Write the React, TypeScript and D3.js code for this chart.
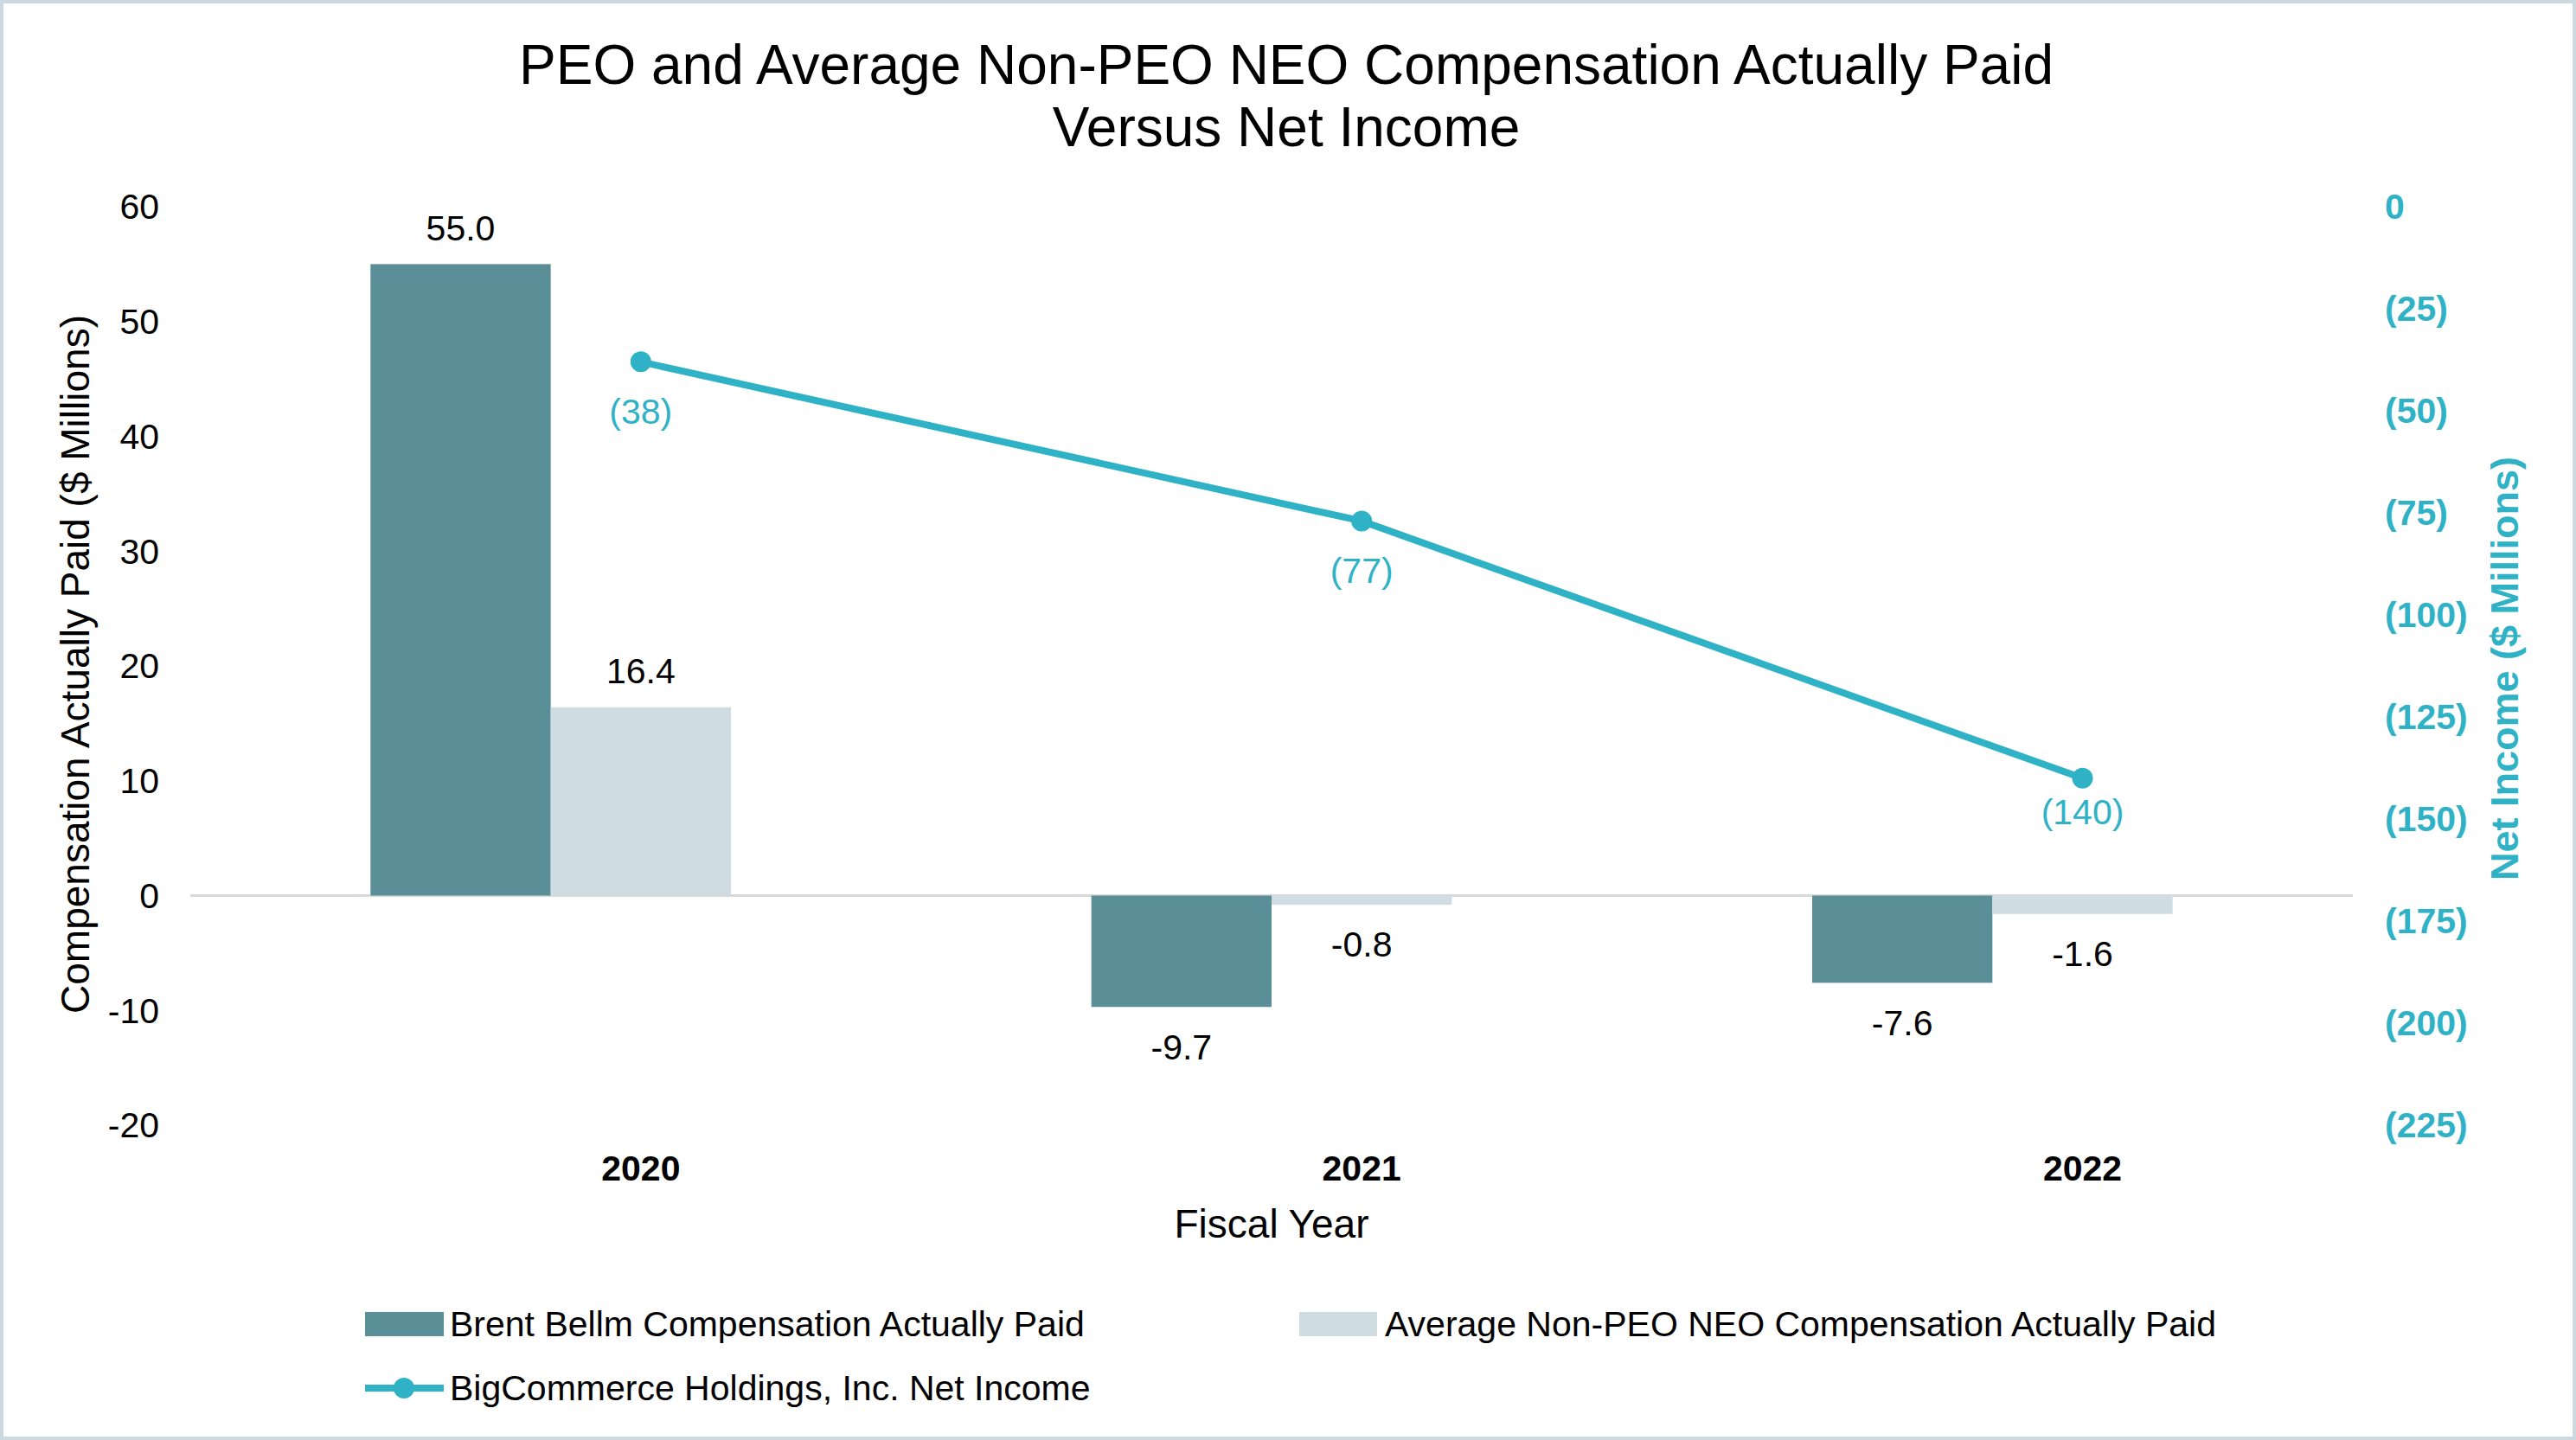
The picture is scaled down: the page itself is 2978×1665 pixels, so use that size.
import React from "react";
import * as d3 from "d3";

const years = ["2020", "2021", "2022"];
const peoValues = [55.0, -9.7, -7.6];
const neoValues = [16.4, -0.8, -1.6];
const netIncome = [-38, -77, -140];
const leftTicks = [60, 50, 40, 30, 20, 10, 0, -10, -20];
const rightTicks = [0, -25, -50, -75, -100, -125, -150, -175, -200, -225];

const W = 2978;
const H = 1665;
const FONT = "'Liberation Sans', Arial, sans-serif";
const DARK = "#5a8f97";
const LIGHT = "#cfdce1";
const TEAL = "#2fb2c6";
const FS = 41;
const LINE_LABEL_OFFSETS = [57, 57, 39];

export default function App() {
  const x = d3.scaleBand<string>().domain(years).range([220, 2720]).paddingInner(0).paddingOuter(0);
  const y = d3.scaleLinear().domain([-20, 60]).range([1301, 239]);
  const y2 = d3.scaleLinear().domain([-225, 0]).range([1301, 239]);
  const step = x.bandwidth();
  const barW = step * 0.25;
  const bc = (yr: string) => (x(yr) as number) + step / 2;
  const cx = (yr: string) => bc(yr) + barW / 2;
  const lineGen = d3
    .line<number>()
    .x((_, i) => cx(years[i]))
    .y((d) => y2(d));
  const fmtParen = (v: number) => (v === 0 ? "0" : `(${Math.abs(v)})`);

  return (
    <svg width={W} height={H} style={{ position: "absolute", left: 0, top: 0, background: "#fff" }}>
      <rect x={2} y={2} width={W - 4} height={H - 4} fill="#fff" stroke="#ccd9e0" strokeWidth={4} />
      <text x={1487} y={97} textAnchor="middle" fontFamily={FONT} fontSize={64} fill="#000">
        PEO and Average Non-PEO NEO Compensation Actually Paid
      </text>
      <text x={1487} y={169} textAnchor="middle" fontFamily={FONT} fontSize={64} fill="#000">
        Versus Net Income
      </text>

      {leftTicks.map((t) => (
        <text key={"l" + t} x={184} y={y(t)} dy="0.35em" textAnchor="end" fontFamily={FONT} fontSize={FS} fill="#000">
          {t}
        </text>
      ))}
      {rightTicks.map((t) => (
        <text key={"r" + t} x={2757} y={y2(t)} dy="0.35em" textAnchor="start" fontFamily={FONT} fontSize={FS} fontWeight="bold" fill={TEAL}>
          {fmtParen(t)}
        </text>
      ))}

      <line x1={220} x2={2720} y1={y(0)} y2={y(0)} stroke="#d9d9d9" strokeWidth={3} />

      {years.map((yr, i) => {
        const c = bc(yr);
        const v1 = peoValues[i];
        const v2 = neoValues[i];
        return (
          <g key={yr}>
            <rect x={c - barW} width={barW} y={Math.min(y(v1), y(0))} height={Math.abs(y(v1) - y(0))} fill={DARK} />
            <rect x={c} width={barW} y={Math.min(y(v2), y(0))} height={Math.abs(y(v2) - y(0))} fill={LIGHT} />
            <text x={c - barW / 2} y={v1 >= 0 ? y(v1) - 42 : y(v1) + 46} dy="0.35em" textAnchor="middle" fontFamily={FONT} fontSize={FS} fill="#000">
              {v1.toFixed(1)}
            </text>
            <text x={c + barW / 2} y={v2 >= 0 ? y(v2) - 42 : y(v2) + 46} dy="0.35em" textAnchor="middle" fontFamily={FONT} fontSize={FS} fill="#000">
              {v2.toFixed(1)}
            </text>
            <text x={cx(yr)} y={1351} dy="0.35em" textAnchor="middle" fontFamily={FONT} fontSize={FS} fontWeight="bold" fill="#000">
              {yr}
            </text>
          </g>
        );
      })}

      <path d={lineGen(netIncome) || ""} fill="none" stroke={TEAL} strokeWidth={8} />
      {netIncome.map((v, i) => (
        <g key={"p" + i}>
          <circle cx={cx(years[i])} cy={y2(v)} r={12} fill={TEAL} />
          <text x={cx(years[i])} y={y2(v) + LINE_LABEL_OFFSETS[i]} dy="0.35em" textAnchor="middle" fontFamily={FONT} fontSize={FS} fill={TEAL}>
            {fmtParen(v)}
          </text>
        </g>
      ))}

      <text x={1470} y={1415} dy="0.35em" textAnchor="middle" fontFamily={FONT} fontSize={46} fill="#000">
        Fiscal Year
      </text>
      <text transform={`translate(87,768) rotate(-90)`} dy="0.35em" textAnchor="middle" fontFamily={FONT} fontSize={46} fill="#000">
        Compensation Actually Paid ($ Millions)
      </text>
      <text transform={`translate(2895,773) rotate(-90)`} dy="0.35em" textAnchor="middle" fontFamily={FONT} fontSize={45} fontWeight="bold" fill={TEAL}>
        Net Income ($ Millions)
      </text>

      <rect x={422} y={1517} width={91} height={28} fill={DARK} />
      <text x={520} y={1531} dy="0.35em" fontFamily={FONT} fontSize={FS} fill="#000">
        Brent Bellm Compensation Actually Paid
      </text>
      <rect x={1502} y={1517} width={90} height={28} fill={LIGHT} />
      <text x={1601} y={1531} dy="0.35em" fontFamily={FONT} fontSize={FS} fill="#000">
        Average Non-PEO NEO Compensation Actually Paid
      </text>
      <line x1={422} x2={513} y1={1605} y2={1605} stroke={TEAL} strokeWidth={8} />
      <circle cx={467} cy={1605} r={12} fill={TEAL} />
      <text x={520} y={1605} dy="0.35em" fontFamily={FONT} fontSize={FS} fill="#000">
        BigCommerce Holdings, Inc. Net Income
      </text>
    </svg>
  );
}
